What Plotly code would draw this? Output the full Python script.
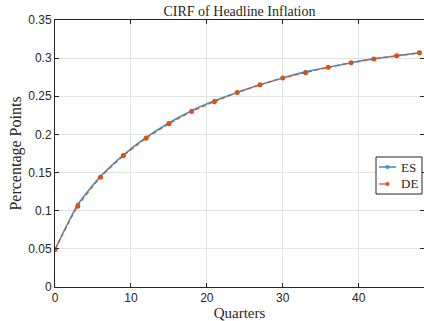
import plotly.graph_objects as go

quarters = [0, 3, 6, 9, 12, 15, 18, 21, 24, 27, 30, 33, 36, 39, 42, 45, 48]
es_vals = [0.049, 0.108, 0.145, 0.173, 0.196, 0.215, 0.231, 0.244, 0.255, 0.265, 0.274, 0.282, 0.288, 0.294, 0.299, 0.303, 0.307]
de_vals = [0.049, 0.106, 0.144, 0.172, 0.195, 0.214, 0.230, 0.243, 0.255, 0.265, 0.274, 0.281, 0.288, 0.294, 0.299, 0.303, 0.307]
series_names = ["ES", "DE"]
x_ticks = [0, 10, 20, 30, 40]
y_ticks = [0, 0.05, 0.1, 0.15, 0.2, 0.25, 0.3, 0.35]
y_ticklabels = ["0", "0.05", "0.1", "0.15", "0.2", "0.25", "0.3", "0.35"]

BLUE = "#3f94d6"
ORANGE = "#D95319"
DARK = "#262626"
serif = "Liberation Serif, Times New Roman, serif"
sans = "Liberation Sans, Arial, sans-serif"

W, H = 424, 321
ML, MR, MT, MB = 55, 0, 20, 34
PW, PH = W - ML - MR, H - MT - MB


def px(x):
    return (x - ML) / PW


def py(y):
    return (H - MB - y) / PH


fig = go.Figure()
fig.add_trace(go.Scatter(
    x=quarters, y=es_vals, name=series_names[0], mode="lines+markers",
    line=dict(color=BLUE, width=1.6, shape="spline", smoothing=0.6),
    marker=dict(color=BLUE, size=4, symbol="circle"),
    showlegend=False,
))
fig.add_trace(go.Scatter(
    x=quarters, y=de_vals, name=series_names[1], mode="lines+markers",
    line=dict(color=ORANGE, width=1.3, dash="4px,3px", shape="spline", smoothing=0.6),
    marker=dict(color=ORANGE, size=5, symbol="circle"),
    showlegend=False,
))

axis_common = dict(
    showline=True, linecolor=DARK, linewidth=1, mirror="ticks",
    ticks="inside", ticklen=4, tickcolor=DARK,
    showgrid=True, gridcolor="#e3e3e3", gridwidth=1,
    zeroline=False, tickfont=dict(family=sans, size=12, color=DARK),
)

# custom MATLAB-style legend (box, sample lines, markers, labels)
shapes = [dict(type="rect", xref="paper", yref="paper",
               x0=px(376), x1=px(422), y0=py(194), y1=py(157),
               line=dict(color=DARK, width=1), fillcolor="white", layer="above")]
annotations = []
legend_rows = [(167, BLUE, "solid", 1.6), (184, ORANGE, "dash", 1.3)]
for (yy, col, dash, lw), name in zip(legend_rows, series_names):
    shapes.append(dict(type="line", xref="paper", yref="paper",
                       x0=px(379), x1=px(396), y0=py(yy), y1=py(yy),
                       line=dict(color=col, width=lw, dash=dash), layer="above"))
    shapes.append(dict(type="circle", xref="paper", yref="paper",
                       x0=px(385.5), x1=px(389.5), y0=py(yy + 2), y1=py(yy - 2),
                       line=dict(color=col, width=0), fillcolor=col, layer="above"))
    annotations.append(dict(text=name, xref="paper", yref="paper",
                            x=px(398.5), y=py(yy), xanchor="left", yanchor="middle",
                            showarrow=False,
                            font=dict(family=serif, size=13, color=DARK)))

fig.update_layout(
    width=W, height=H,
    margin=dict(l=ML, r=MR, t=MT, b=MB),
    paper_bgcolor="white", plot_bgcolor="white",
    title=dict(text="CIRF of Headline Inflation", x=(ML + PW / 2) / W, xanchor="center",
               y=1 - 11 / H, yanchor="middle",
               font=dict(family=serif, size=14, color=DARK)),
    xaxis=dict(range=[0, 48.6], tickvals=x_ticks,
               title=dict(text="Quarters", font=dict(family=serif, size=15, color=DARK), standoff=3),
               **axis_common),
    yaxis=dict(range=[0, 0.35], tickvals=y_ticks, ticktext=y_ticklabels,
               title=dict(text="Percentage Points", font=dict(family=serif, size=16, color=DARK), standoff=2),
               **axis_common),
    shapes=shapes,
    annotations=annotations,
    showlegend=False,
)

fig.write_html("out.html")
